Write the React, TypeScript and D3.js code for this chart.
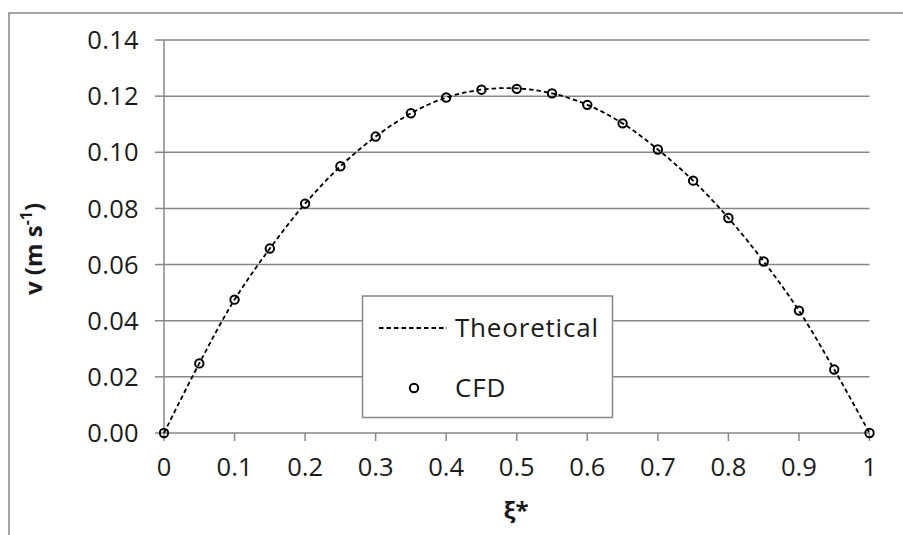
import React from "react";
import * as d3 from "d3";

const xiValues = [0, 0.05, 0.1, 0.15, 0.2, 0.25, 0.3, 0.35, 0.4, 0.45, 0.5, 0.55, 0.6, 0.65, 0.7, 0.75, 0.8, 0.85, 0.9, 0.95, 1];
const cfdValues = [0, 0.0248, 0.0475, 0.0657, 0.0817, 0.095, 0.1056, 0.1139, 0.1195, 0.1223, 0.1226, 0.121, 0.1169, 0.1103, 0.101, 0.0899, 0.0766, 0.0611, 0.0436, 0.0226, 0];
const theoreticalValues = [0, 0.0248, 0.0475, 0.0657, 0.0817, 0.095, 0.1056, 0.1139, 0.1195, 0.1223, 0.1228, 0.121, 0.1169, 0.1103, 0.101, 0.0899, 0.0766, 0.0611, 0.0436, 0.0226, 0];
const yTicks = [0, 0.02, 0.04, 0.06, 0.08, 0.1, 0.12, 0.14];
const xTicks = [0, 0.1, 0.2, 0.3, 0.4, 0.5, 0.6, 0.7, 0.8, 0.9, 1];
const seriesNames = ["Theoretical", "CFD"];

const W = 903;
const H = 535;
const FONT = "'Open Sans', 'DejaVu Sans', sans-serif";
const GRID = "#878787";
const TXT = "#1a1a1a";

export default function App() {
  const x = d3.scaleLinear().domain([0, 1]).range([164, 869.5]);
  const y = d3.scaleLinear().domain([0, 0.14]).range([433, 40]);
  const yFmt = d3.format(".2f");
  const xFmt = (v: number) => String(v);

  const theo = xiValues.map((xi, i) => [xi, theoreticalValues[i]] as [number, number]);
  const line = d3
    .line<[number, number]>()
    .x((d) => x(d[0]))
    .y((d) => y(d[1]))
    .curve(d3.curveCatmullRom.alpha(0.5));

  const legX = 362.5;
  const legY = 296;
  const legW = 250;
  const legH = 121.5;

  return (
    <svg width={W} height={H} style={{ position: "absolute", left: 0, top: 0, background: "#fff" }} fontFamily={FONT}>
      <rect x={0} y={0} width={W} height={H} fill="#fff" />
      <rect x={9} y={13} width={1200} height={1200} fill="none" stroke={GRID} strokeWidth={1.5} />

      {yTicks.filter((t) => t > 0).map((t) => (
        <line key={"g" + t} x1={x(0)} x2={x(1)} y1={y(t)} y2={y(t)} stroke={GRID} strokeWidth={1.5} />
      ))}

      <line x1={x(0)} x2={x(0)} y1={y(0.14)} y2={y(0)} stroke={GRID} strokeWidth={1.5} />
      {yTicks.map((t) => (
        <g key={"yt" + t}>
          <line x1={x(0) - 9} x2={x(0)} y1={y(t)} y2={y(t)} stroke={GRID} strokeWidth={1.5} />
          <text x={139} y={y(t)} dy="0.36em" textAnchor="end" fontSize={25.5} letterSpacing={0.3} fill={TXT}>
            {yFmt(t)}
          </text>
        </g>
      ))}

      <line x1={x(0)} x2={x(1)} y1={y(0)} y2={y(0)} stroke={GRID} strokeWidth={1.5} />
      {xTicks.map((t) => (
        <g key={"xt" + t}>
          <line x1={x(t)} x2={x(t)} y1={y(0)} y2={y(0) + 8} stroke={GRID} strokeWidth={1.5} />
          <text x={x(t)} y={467} dy="0.36em" textAnchor="middle" fontSize={25.5} fill={TXT}>
            {xFmt(t)}
          </text>
        </g>
      ))}

      <path d={line(theo) || ""} fill="none" stroke="#000" strokeWidth={1.8} strokeDasharray="4.5,3" />

      {xiValues.map((xi, i) => (
        <circle key={"c" + i} cx={x(xi)} cy={y(cfdValues[i])} r={4.2} fill="none" stroke="#000" strokeWidth={2} />
      ))}

      <text x={516} y={511} dy="0.35em" textAnchor="middle" fontSize={24} fontWeight="bold" fill={TXT}>
        ξ*
      </text>
      <text transform="translate(42,249) rotate(-90)" textAnchor="middle" fontSize={24} fontWeight="bold" fill={TXT}>
        v (m s<tspan dy="-10" fontSize={16}>-1</tspan>
        <tspan dy="10">)</tspan>
      </text>

      <rect x={legX} y={legY} width={legW} height={legH} fill="#fff" stroke={GRID} strokeWidth={1.5} />
      <line x1={379} x2={447} y1={328} y2={328} stroke="#000" strokeWidth={1.8} strokeDasharray="4.5,3" />
      <text x={455} y={328} dy="0.36em" fontSize={26} letterSpacing={0.8} fill={TXT}>
        {seriesNames[0]}
      </text>
      <circle cx={414} cy={388} r={4.2} fill="none" stroke="#000" strokeWidth={2} />
      <text x={455} y={388} dy="0.36em" fontSize={26} letterSpacing={0.8} fill={TXT}>
        {seriesNames[1]}
      </text>
    </svg>
  );
}
